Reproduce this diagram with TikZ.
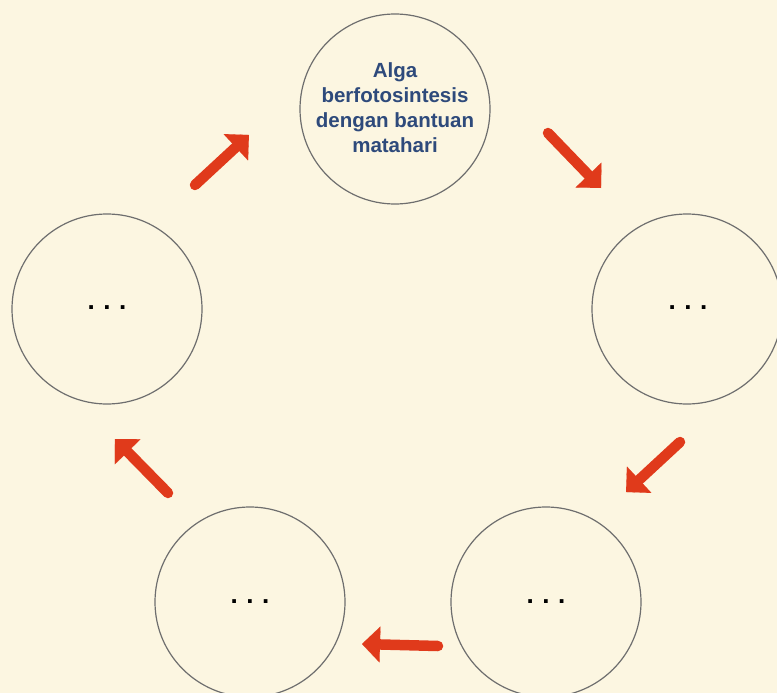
\documentclass[tikz,border=0pt]{standalone}
\usepackage{fontspec}
\setmainfont{Liberation Sans}
\usetikzlibrary{arrows.meta}
\definecolor{paper}{HTML}{FCF6E1}
\definecolor{ring}{HTML}{6E6E6E}
\definecolor{flow}{HTML}{E03A1B}
\definecolor{ink}{HTML}{2E4A7B}
\begin{document}
\begin{tikzpicture}[x=1pt,y=-1pt,
  stage/.style={circle,draw=ring,line width=1.2pt,minimum size=190pt,inner sep=0pt},
  flowarrow/.style={draw=flow,line width=10.5pt,line cap=round,
    -{Triangle[length=18pt,width=36pt,line width=0.1pt]}},
  dotrow/.style={font=\bfseries\fontsize{26}{26}\selectfont,anchor=base,inner sep=0pt}]
  % page
  \fill[paper] (0,0) rectangle (777,693);
  \useasboundingbox (0,0) rectangle (777,693);
  % the five stages of the cycle
  \node[stage] (top) at (395,109) {};
  \node[stage] (right) at (687,309) {};
  \node[stage] (bright) at (546,602) {};
  \node[stage] (bleft) at (250,602) {};
  \node[stage] (left) at (107,309) {};
  \node[align=center,text=ink,font=\bfseries\fontsize{20.5}{25}\selectfont] (label) at (395,108)
    {Alga\\berfotosintesis\\dengan bantuan\\matahari};
  \node[dotrow] (dr) at (688,309) {.\hspace{8.5pt}.\hspace{8.5pt}.};
  \node[dotrow] (dbr) at (546,603) {.\hspace{8.5pt}.\hspace{8.5pt}.};
  \node[dotrow] (dbl) at (250,603) {.\hspace{8.5pt}.\hspace{8.5pt}.};
  \node[dotrow] (dl) at (107,309) {.\hspace{8.5pt}.\hspace{8.5pt}.};
  % arrow end points
  \coordinate (a1s) at (195,185); \coordinate (a1e) at (249,135);
  \coordinate (a2s) at (548,133); \coordinate (a2e) at (601,188);
  \coordinate (a3s) at (680,442); \coordinate (a3e) at (626,492);
  \coordinate (a4s) at (438,646); \coordinate (a4e) at (362,644);
  \coordinate (a5s) at (168,493); \coordinate (a5e) at (115,439);
  \draw[flowarrow] (a1s) -- (a1e);
  \draw[flowarrow] (a2s) -- (a2e);
  \draw[flowarrow] (a3s) -- (a3e);
  \draw[flowarrow] (a4s) -- (a4e);
  \draw[flowarrow] (a5s) -- (a5e);
\end{tikzpicture}
\end{document}
